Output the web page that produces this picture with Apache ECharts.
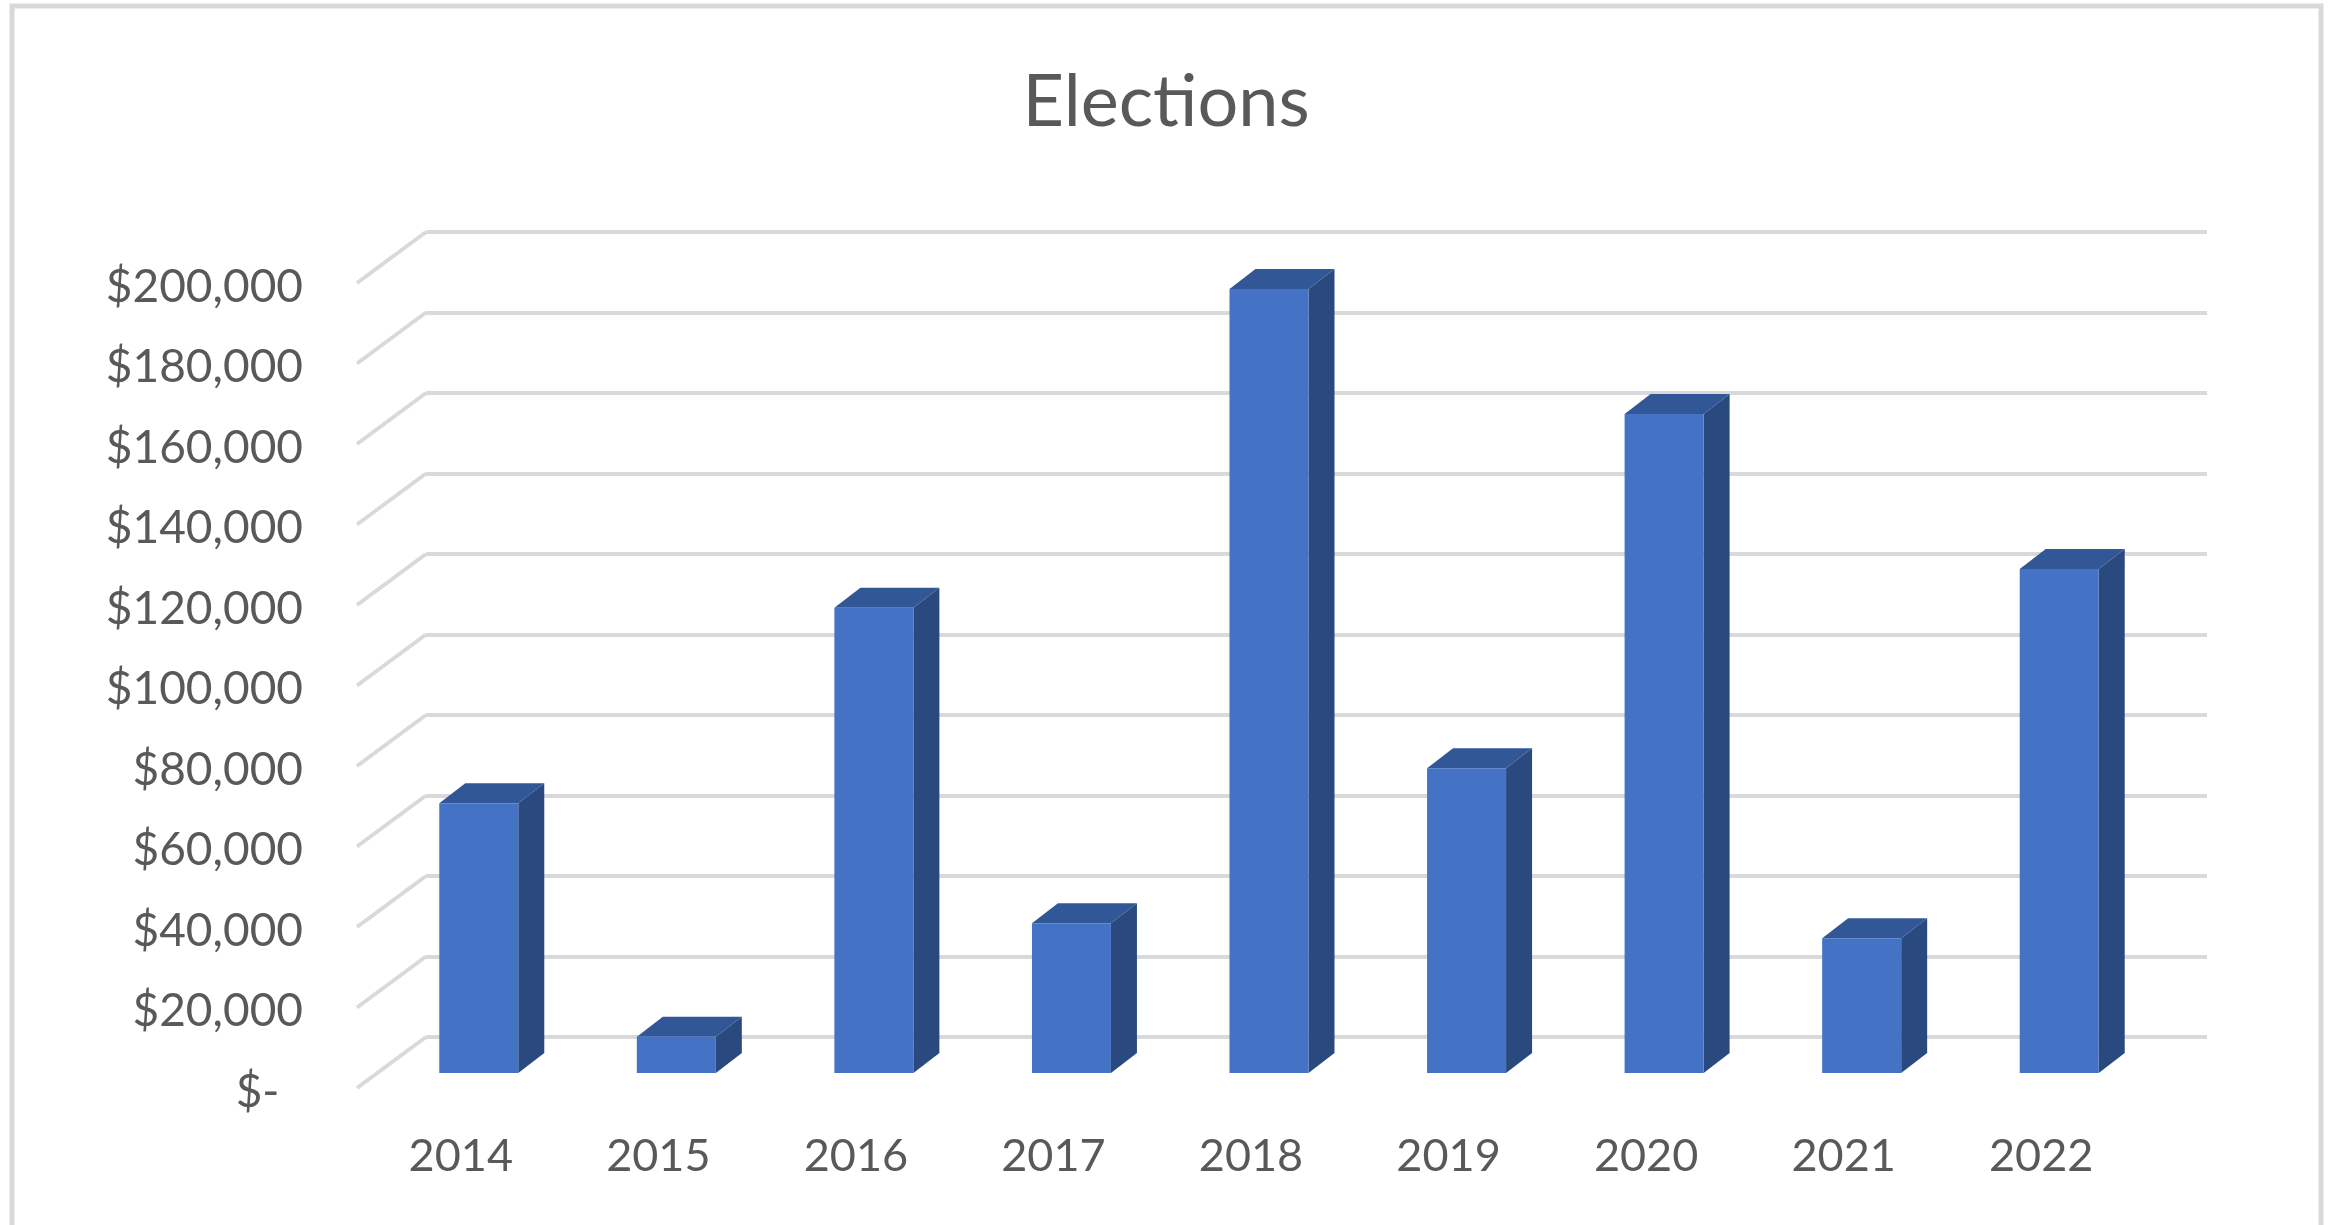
<!DOCTYPE html>
<html><head><meta charset="utf-8">
<style>html,body{margin:0;padding:0;background:#fff}#c{width:2335px;height:1225px;filter:blur(0.7px)}</style>
<script src="https://cdn.jsdelivr.net/npm/echarts@6/dist/echarts.min.js"></script>
</head><body><div id="c"></div>
<script>
const categories = ['2014','2015','2016','2017','2018','2019','2020','2021','2022'];
const electionValues = [67000, 9000, 115600, 37200, 194800, 75700, 163700, 33500, 125200];
const yTicks = [0,20000,40000,60000,80000,100000,120000,140000,160000,180000,200000];

const font = 'Lato';
const grey = '#d9d9d9', txt = '#595959';
const chart = echarts.init(document.getElementById('c'), null, {renderer:'canvas'});

function bar3d(params, api){
  const i = api.value(0), v = api.value(1);
  const base = api.coord([i, 0]), top = api.coord([i, v]);
  const w = 79, dx = 26, dy = 20, cx = base[0] + 18, lift = 19;
  const l = cx - w/2, r = cx + w/2, yb = base[1] - lift, yt = top[1] - lift;
  return {type:'group', children:[
    {type:'polygon', shape:{points:[[r,yb],[r+dx,yb-dy],[r+dx,yt-dy],[r,yt]]}, style:{fill:'#2a4a7f'}},
    {type:'polygon', shape:{points:[[l,yt],[l+dx,yt-dy],[r+dx,yt-dy],[r,yt]]}, style:{fill:'#325796'}},
    {type:'rect', shape:{x:l, y:yt, width:w, height:yb-yt}, style:{fill:'#4472c4'}}
  ]};
}
function wallEdge(params, api){
  const y = api.coord([0, api.value(0)])[1], x = params.coordSys.x;
  return {type:'line', shape:{x1:x, y1:y, x2:x-69, y2:y+51}, style:{stroke:grey, lineWidth:4}};
}
chart.setOption({
  animation:false,
  backgroundColor:'#fff',
  title:{text:'Elections', left:1161, top:98, textAlign:'center', textVerticalAlign:'middle',
    textStyle:{fontFamily:font, fontSize:72, fontWeight:'normal', color:txt}},
  graphic:[{type:'polyline', silent:true, z:-1,
    shape:{points:[[12,1225],[12,6],[2321,6],[2321,1225]]},
    style:{stroke:grey, lineWidth:5, fill:null}}],
  grid:[
    {left:426, top:232, width:1781, height:805},
    {left:362, top:287, width:1778, height:805}
  ],
  xAxis:[
    {gridIndex:0, type:'category', data:categories, show:false},
    {gridIndex:1, type:'category', data:categories, axisLine:{show:false}, axisTick:{show:false},
      axisLabel:{fontFamily:font, fontSize:45, color:txt, margin:42}}
  ],
  yAxis:[
    {gridIndex:0, type:'value', min:0, max:200000, interval:20000, axisLine:{show:false}, axisTick:{show:false},
      axisLabel:{show:false}, splitLine:{show:true, lineStyle:{color:grey, width:4}}},
    {gridIndex:1, type:'value', min:0, max:200000, interval:20000, axisLine:{show:false}, axisTick:{show:false},
      splitLine:{show:false},
      axisLabel:{fontFamily:font, fontSize:46, color:txt, margin:59,
        formatter:v => v===0 ? '$-\u00a0\u00a0' : '$'+v.toLocaleString('en-US')}}
  ],
  series:[
    {type:'custom', xAxisIndex:0, yAxisIndex:0, renderItem:wallEdge, data:yTicks.map(v=>[v]), encode:{y:0}, silent:true, z:1},
    {type:'custom', name:'Elections', xAxisIndex:1, yAxisIndex:1, renderItem:bar3d,
      data:electionValues.map((v,i)=>[i,v]), encode:{x:0,y:1}, z:2}
  ]
});
</script></body></html>
